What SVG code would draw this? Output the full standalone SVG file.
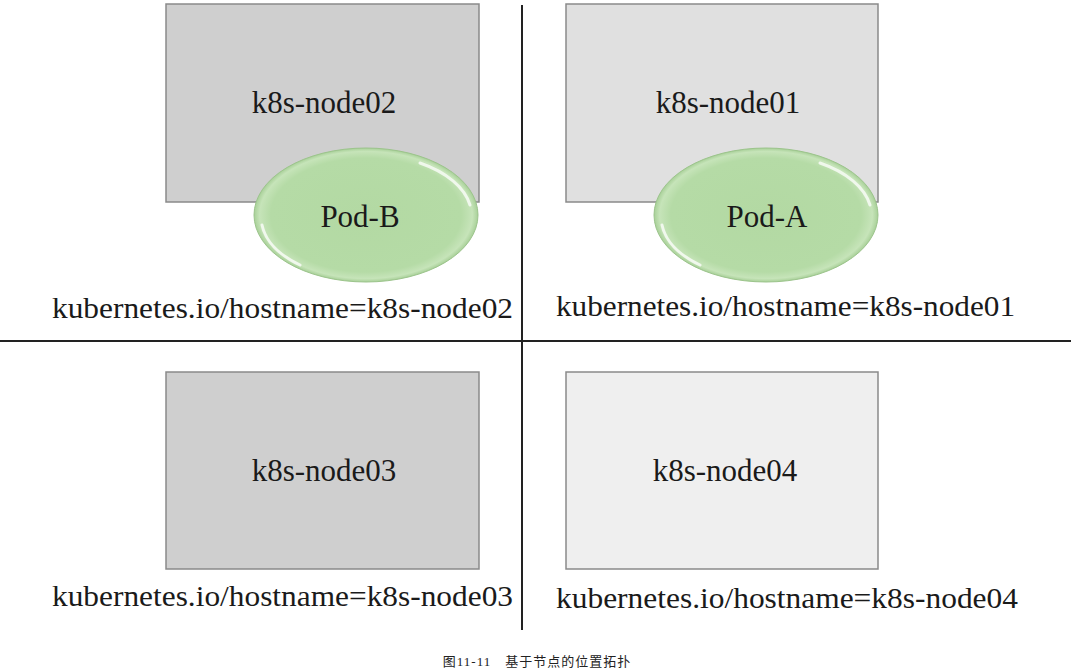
<svg xmlns="http://www.w3.org/2000/svg" width="1077" height="670" viewBox="0 0 1077 670">
<style>
.node{stroke:#8a8a8a;stroke-width:1.5}
.t{font-family:"Liberation Serif","Times New Roman",serif;font-size:31px;fill:#1a1a1a;text-anchor:middle}
.lbl{font-family:"Liberation Serif","Times New Roman",serif;font-size:30px;fill:#1a1a1a}
.pod{fill:url(#podg);stroke:#9cc48c;stroke-width:1}
.hl{fill:none;stroke:#ffffff;stroke-opacity:0.75;stroke-width:3;stroke-linecap:round}
.cap{font-family:"Liberation Serif","Noto Sans CJK SC",serif;font-size:13px;fill:#222;text-anchor:middle;letter-spacing:1px}
.ln{stroke:#222;stroke-width:2;fill:none}
</style>
<defs>
<radialGradient id="podg" cx="0.5" cy="0.5" r="0.5">
<stop offset="0" stop-color="#b3d9a3"/>
<stop offset="0.85" stop-color="#b5dba6"/>
<stop offset="0.95" stop-color="#c6e4b9"/>
<stop offset="1" stop-color="#a8d098"/>
</radialGradient>
</defs>
<rect width="1077" height="670" fill="#ffffff"/>
<g id="connectors">
<line class="ln" x1="522" y1="5" x2="522" y2="630"/>
<line class="ln" x1="0" y1="341" x2="1071" y2="341"/>
</g>
<g id="node02">
<rect class="node" x="166" y="4" width="313" height="198" fill="#cfcfcf"/>
<text class="t" x="324" y="113">k8s-node02</text>
</g>
<g id="node01">
<rect class="node" x="566" y="4" width="312" height="198" fill="#e0e0e0"/>
<text class="t" x="728" y="113">k8s-node01</text>
</g>
<g id="podB">
<ellipse class="pod" cx="366" cy="215" rx="112" ry="67"/>
<path class="hl" d="M 420 163 A 106 61 0 0 1 470 205"/>
<path class="hl" d="M 262 225 A 106 61 0 0 0 300 265"/>
<text class="t" x="360" y="227">Pod-B</text>
</g>
<g id="podA">
<ellipse class="pod" cx="766" cy="215" rx="112" ry="67"/>
<path class="hl" d="M 820 163 A 106 61 0 0 1 870 205"/>
<path class="hl" d="M 662 225 A 106 61 0 0 0 700 265"/>
<text class="t" x="767" y="227">Pod-A</text>
</g>
<g id="node03">
<rect class="node" x="166" y="372" width="313" height="197" fill="#cfcfcf"/>
<text class="t" x="324" y="481">k8s-node03</text>
</g>
<g id="node04">
<rect class="node" x="566" y="372" width="312" height="197" fill="#efefef"/>
<text class="t" x="725" y="481">k8s-node04</text>
</g>
<g id="labels">
<text class="lbl" x="52" y="318" textLength="461" lengthAdjust="spacingAndGlyphs">kubernetes.io/hostname=k8s-node02</text>
<text class="lbl" x="556" y="316" textLength="459" lengthAdjust="spacingAndGlyphs">kubernetes.io/hostname=k8s-node01</text>
<text class="lbl" x="52" y="606" textLength="461" lengthAdjust="spacingAndGlyphs">kubernetes.io/hostname=k8s-node03</text>
<text class="lbl" x="556" y="608" textLength="462" lengthAdjust="spacingAndGlyphs">kubernetes.io/hostname=k8s-node04</text>
</g>
<text class="cap" x="537" y="666">图11-11　基于节点的位置拓扑</text>
</svg>
